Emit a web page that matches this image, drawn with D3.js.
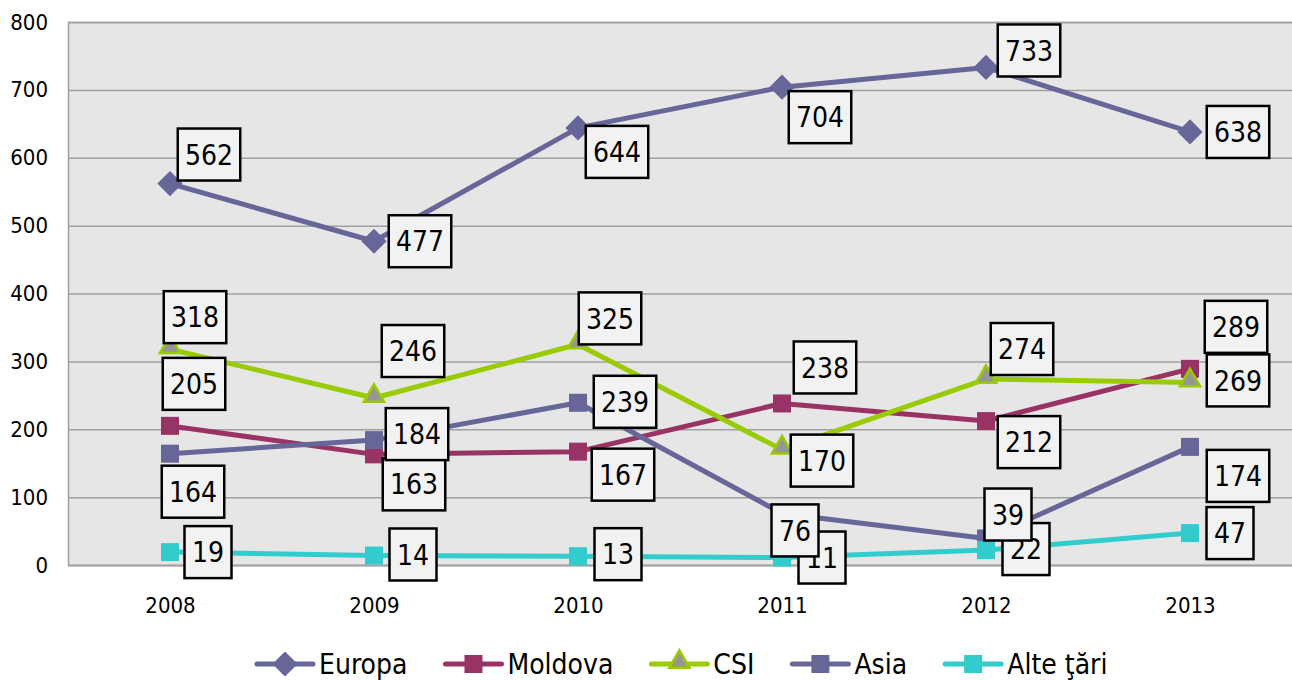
<!DOCTYPE html>
<html>
<head>
<meta charset="utf-8">
<script src="https://cdn.jsdelivr.net/npm/d3@7"></script>
<style>
  body { margin: 0; background: #fff; }
  svg { display: block; font-family: "DejaVu Sans Condensed", "DejaVu Sans", sans-serif; }
</style>
</head>
<body>
<svg id="chart" width="1292" height="680"></svg>
<script>
const years = ["2008", "2009", "2010", "2011", "2012", "2013"];
const seriesNames = ["Europa", "Moldova", "CSI", "Asia", "Alte ţări"];

const europa = [562, 477, 644, 704, 733, 638];
const moldova = [205, 163, 167, 238, 212, 289];
const csi = [318, 246, 325, 170, 274, 269];
const asia = [164, 184, 239, 76, 39, 174];
const alte = [19, 14, 13, 11, 22, 47];

const yTicks = [0, 100, 200, 300, 400, 500, 600, 700, 800];

// label box offsets from the point (dx, dy), placed by hand like the original
const labelOffsets = [
  [[39, -29], [46, 0], [39, 24], [38, 30], [43, -17], [48, 0]],
  [[24, -42], [40, 30], [45, 23], [43, -36], [43, 21], [46, -42]],
  [[25, -32], [39, -47], [32, -26], [40, 11], [36, -30], [48, -2]],
  [[23, 38], [43, -6], [47, -1], [13, 17], [22, -24], [48, 29]],
  [[38, 0], [39, -1], [40, -2], [40, 0], [40, -1], [40, 0]],
];

const colors = ["#666699", "#993366", "#99cc00", "#666699", "#33cccc"];
const markers = ["diamond", "square", "triangle", "square", "square"];

const allValues = [europa, moldova, csi, asia, alte];
const series = seriesNames.map((name, i) => ({
  name: name,
  color: colors[i],
  marker: markers[i],
  values: allValues[i].map((v, j) => ({ year: years[j], value: v, off: labelOffsets[i][j] })),
}));

const svg = d3.select("#chart");
const margin = { top: 22, right: 0, bottom: 115, left: 68 };
const width = +svg.attr("width"),
  height = +svg.attr("height");

const x = d3
  .scalePoint()
  .domain(years)
  .range([margin.left, width - margin.right])
  .padding(0.5);

const y = d3
  .scaleLinear()
  .domain([0, 800])
  .range([height - margin.bottom, margin.top]);

// plot background
svg
  .append("rect")
  .attr("x", margin.left)
  .attr("y", margin.top)
  .attr("width", width - margin.right - margin.left)
  .attr("height", y(0) - margin.top)
  .attr("fill", "#e6e6e6");

// grid + y axis
const yAxis = svg
  .append("g")
  .attr("transform", `translate(${margin.left},0)`)
  .call(
    d3
      .axisLeft(y)
      .tickValues(yTicks)
      .tickSize(-(width - margin.right - margin.left))
      .tickPadding(20)
  );
yAxis.select(".domain").attr("stroke", "#a0a0a0").attr("stroke-width", 1.5);
yAxis.selectAll(".tick line").attr("stroke", "#a0a0a0").attr("stroke-width", 1.5);
yAxis
  .selectAll(".tick text")
  .attr("fill", "#000")
  .style("font-size", "22px")
  .style("font-family", "DejaVu Sans Condensed, DejaVu Sans, sans-serif");

// x axis
const xAxis = svg
  .append("g")
  .attr("transform", `translate(0,${y(0)})`)
  .call(d3.axisBottom(x).tickSize(0).tickPadding(32));
xAxis.select(".domain").attr("stroke", "#a0a0a0").attr("stroke-width", 1.5);
xAxis
  .selectAll(".tick text")
  .attr("fill", "#000")
  .style("font-size", "22px")
  .style("font-family", "DejaVu Sans Condensed, DejaVu Sans, sans-serif");

function drawMarker(sel, s, size) {
  if (s.marker == "diamond") {
    sel
      .append("path")
      .attr("d", d3.symbol(d3.symbolDiamond2, size * size * 1.25)())
      .attr("fill", s.color);
  } else if (s.marker == "triangle") {
    sel
      .append("path")
      .attr("d", d3.symbol(d3.symbolTriangle2, size * size * 0.9)())
      .attr("transform", "translate(0,-2)")
      .attr("fill", "#969696")
      .attr("stroke", s.color)
      .attr("stroke-width", 2.5);
  } else {
    sel
      .append("rect")
      .attr("x", -size / 2)
      .attr("y", -size / 2)
      .attr("width", size)
      .attr("height", size)
      .attr("fill", s.color);
  }
}

const line = d3
  .line()
  .x((d) => x(d.year))
  .y((d) => y(d.value));

// lines and markers
series.forEach(function (s) {
  const g = svg.append("g");
  g.append("path")
    .datum(s.values)
    .attr("d", line)
    .attr("fill", "none")
    .attr("stroke", s.color)
    .attr("stroke-width", 5)
    .attr("stroke-linejoin", "round");
  g.selectAll("g.pt")
    .data(s.values)
    .join("g")
    .attr("class", "pt")
    .attr("transform", (d) => `translate(${x(d.year)},${y(d.value)})`)
    .each(function () {
      drawMarker(d3.select(this), s, 18);
    });
});

// data labels
const labelOrder = [4, 0, 1, 2, 3];
labelOrder.forEach(function (i) {
  const s = series[i];
  const lg = svg
    .append("g")
    .selectAll("g")
    .data(s.values)
    .join("g")
    .attr("transform", (d) => `translate(${x(d.year) + d.off[0]},${y(d.value) + d.off[1]})`);
  lg.append("rect")
    .attr("x", (d) => -(16 + 15.5 * String(d.value).length) / 2)
    .attr("y", -26)
    .attr("width", (d) => 16 + 15.5 * String(d.value).length)
    .attr("height", 52)
    .attr("fill", "#f2f2f2")
    .attr("stroke", "#000")
    .attr("stroke-width", 2.5);
  lg.append("text")
    .attr("text-anchor", "middle")
    .attr("dy", "0.36em")
    .style("font-size", "28px")
    .attr("fill", "#000")
    .text((d) => d.value);
});

// legend
const legend = svg.append("g").attr("transform", `translate(255,${664})`);
let lx = 0;
series.forEach(function (s) {
  const item = legend.append("g").attr("transform", `translate(${lx},0)`);
  item
    .append("line")
    .attr("x1", 2)
    .attr("x2", 58)
    .attr("stroke", s.color)
    .attr("stroke-width", 5)
    .attr("stroke-linecap", "round");
  const m = item.append("g").attr("transform", "translate(30,0)");
  drawMarker(m, s, 18);
  const t = item
    .append("text")
    .attr("x", 64)
    .attr("dy", "0.36em")
    .style("font-size", "28px")
    .attr("fill", "#000")
    .text(s.name);
  lx += 64 + t.node().getComputedTextLength() + 36;
});
</script>
</body>
</html>
